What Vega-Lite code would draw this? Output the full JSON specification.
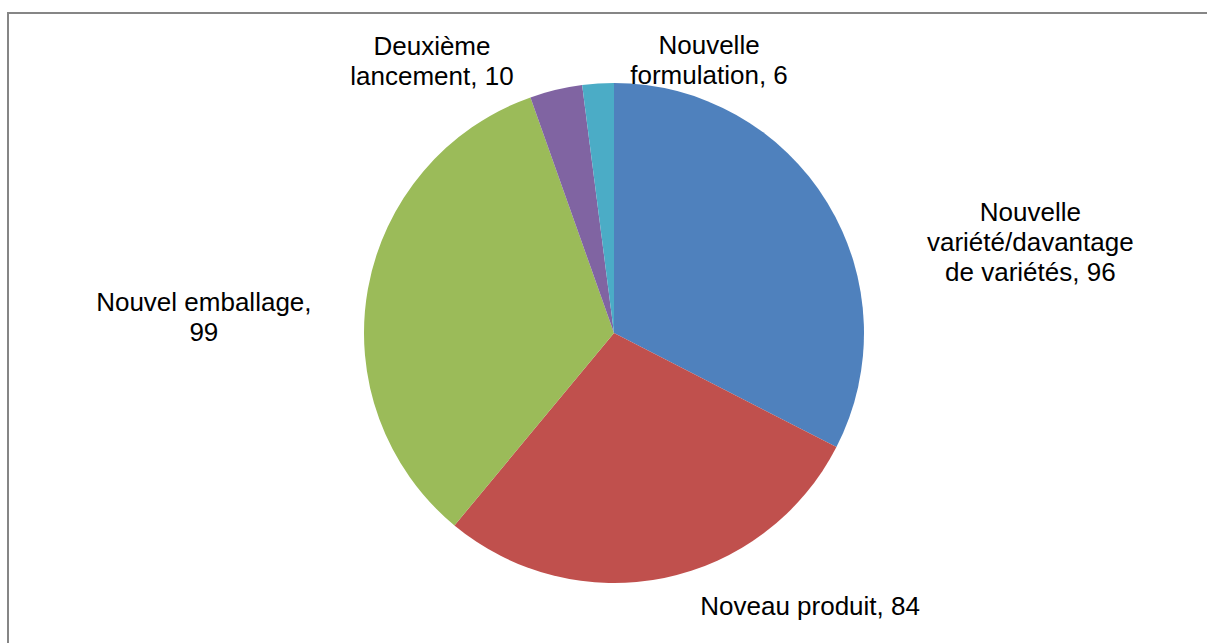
{
  "$schema": "https://vega.github.io/schema/vega-lite/v6.json",
  "width": 1212,
  "height": 640,
  "autosize": {"type": "none"},
  "padding": {"left": 8, "top": 13, "right": 0, "bottom": 0},
  "background": "white",
  "config": {"view": {"stroke": null}},
  "data": {
    "values": [
      {"category": "Nouvelle variété/davantage de variétés", "label": "Nouvelle\nvariété/davantage\nde variétés, 96", "value": 96, "rank": 1},
      {"category": "Noveau produit", "label": "Noveau produit, 84", "value": 84, "rank": 2},
      {"category": "Nouvel emballage", "label": "Nouvel emballage,\n99", "value": 99, "rank": 3},
      {"category": "Deuxième lancement", "label": "Deuxième\nlancement, 10", "value": 10, "rank": 4},
      {"category": "Nouvelle formulation", "label": "Nouvelle\nformulation, 6", "value": 6, "rank": 5}
    ]
  },
  "layer": [
    {
      "data": {"values": [{"frame": "chart area"}]},
      "mark": {"type": "rect", "fill": null, "stroke": "#868686", "strokeWidth": 2},
      "encoding": {}
    },
    {
      "mark": {"type": "arc", "outerRadius": 250},
      "encoding": {
        "theta": {"field": "value", "type": "quantitative", "stack": true},
        "order": {"field": "rank", "type": "quantitative"},
        "color": {
          "field": "category",
          "type": "nominal",
          "scale": {
            "domain": ["Nouvelle variété/davantage de variétés", "Noveau produit", "Nouvel emballage", "Deuxième lancement", "Nouvelle formulation"],
            "range": ["#4F81BD", "#C0504D", "#9BBB59", "#8064A2", "#4BACC6"]
          },
          "legend": null
        }
      }
    },
    {
      "mark": {
        "type": "text",
        "radius": 250,
        "font": "Liberation Sans",
        "fontSize": 26,
        "lineHeight": 30,
        "lineBreak": "\n",
        "fill": "#000000",
        "baseline": "middle",
        "align": {"expr": "datum.rank == 2 ? 'left' : 'center'"},
        "dx": {"expr": "datum.rank == 1 ? 203 : datum.rank == 2 ? 36 : datum.rank == 3 ? -164 : datum.rank == 4 ? -124 : 111"},
        "dy": {"expr": "datum.rank == 1 ? 10 : datum.rank == 2 ? 29 : datum.rank == 3 ? 14 : datum.rank == 4 ? -43 : -38"}
      },
      "encoding": {
        "theta": {"field": "value", "type": "quantitative", "stack": true},
        "order": {"field": "rank", "type": "quantitative"},
        "text": {"field": "label", "type": "nominal"},
        "detail": {"field": "category", "type": "nominal"}
      }
    }
  ]
}
